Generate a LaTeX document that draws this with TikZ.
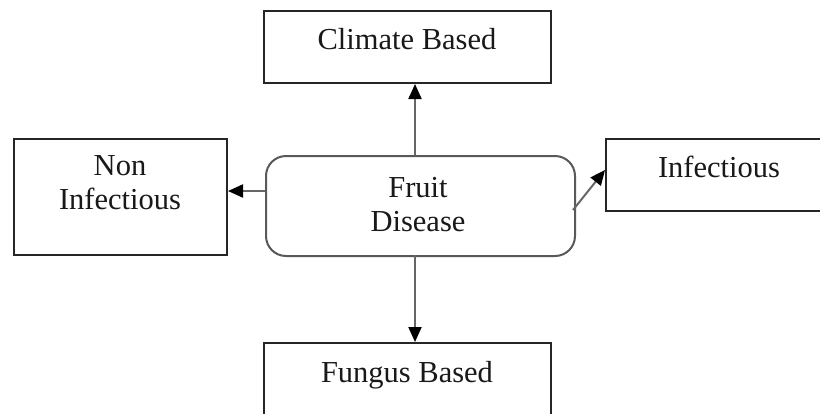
\documentclass[tikz,border=0pt]{standalone}
\usepackage{fontspec}
\setmainfont{Liberation Serif}
\usetikzlibrary{arrows.meta}
\begin{document}
\begin{tikzpicture}[x=1pt,y=-1pt,
  box/.style={draw=black!85,line width=2pt,rectangle,inner sep=0pt,anchor=north west},
  roundbox/.style={draw=black!65,line width=2pt,rectangle,rounded corners=20pt,inner sep=0pt,anchor=north west},
  lbl/.style={inner sep=0pt,anchor=base,align=center,font=\fontsize{30.5}{34}\selectfont,text=black!90},
  conn/.style={draw=black!60,line width=2pt,-{Triangle[length=15pt,width=13pt,fill=black,color=black]}}]
\useasboundingbox (0,0) rectangle (820,413);
\fill[white] (0,0) rectangle (820,413);
\node[box,minimum width=287pt,minimum height=72pt] (climate) at (263,10) {};
\node[box,minimum width=213pt,minimum height=116pt] (non) at (13,138) {};
\node[roundbox,minimum width=309pt,minimum height=100pt] (fruit) at (265,155) {};
\node[box,minimum width=230pt,minimum height=72pt] (inf) at (605,138) {};
\node[box,minimum width=287pt,minimum height=90pt] (fungus) at (263,342) {};
\node[lbl] (tclimate) at (407,49) {Climate Based};
\node[lbl] (tnon) at (120,209) {Non\\Infectious};
\node[lbl] (tfruit) at (418,231) {Fruit\\Disease};
\node[lbl] (tinf) at (719,177) {Infectious};
\node[lbl] (tfungus) at (407,382) {Fungus Based};
\coordinate (fr) at (573,210);
\coordinate (ft) at (415,155);
\coordinate (fb) at (415,255);
\coordinate (fl) at (265,191);
\draw[conn] (ft) -- (ft |- climate.south);
\draw[conn] (fl) -- (fl -| non.east);
\draw[conn] (fr) -- (inf.west |- 0,170);
\draw[conn] (fb) -- (fb |- fungus.north);
\end{tikzpicture}
\end{document}
